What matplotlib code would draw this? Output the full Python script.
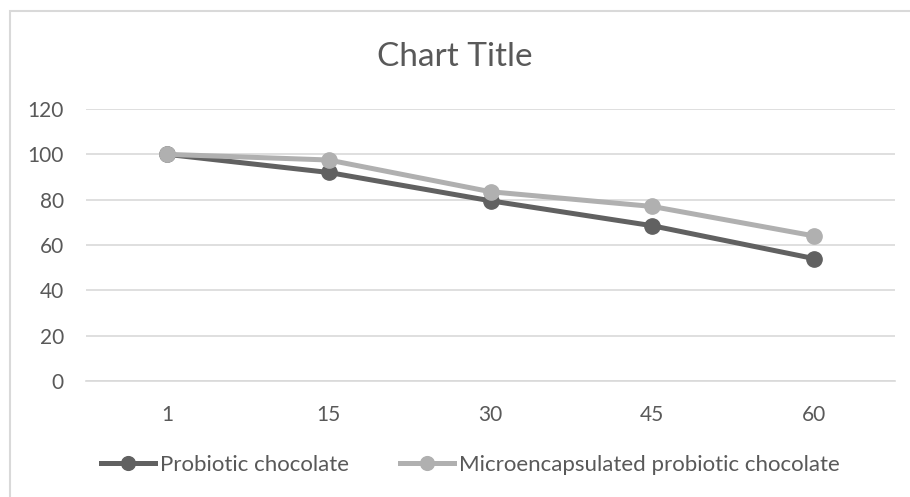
import matplotlib.pyplot as plt
from matplotlib.patches import Rectangle

days = ["1", "15", "30", "45", "60"]
probiotic = [100, 92, 79.5, 68.5, 54]
micro = [100, 97.5, 83.5, 77, 64]
yticks = [0, 20, 40, 60, 80, 100, 120]

plt.rcParams["font.family"] = ["Lato", "DejaVu Sans"]
txt = "#595959"

fig = plt.figure(figsize=(9.1, 4.97), dpi=100)
ax = fig.add_axes([86 / 910, 1 - 381 / 497, (895 - 86) / 910, (381 - 109) / 497])

x = range(len(days))
ax.plot(x, probiotic, color="#616161", lw=3.6, marker="o", ms=11, label="Probiotic chocolate", zorder=3)
ax.plot(x, micro, color="#b0b0b0", lw=3.6, marker="o", ms=11,
        label="Microencapsulated probiotic chocolate", zorder=3)

ax.set_ylim(0, 120)
ax.set_xlim(-0.5, len(days) - 0.5)
ax.set_yticks(yticks)
ax.set_xticks(list(x))
ax.set_xticklabels(days)
ax.grid(axis="y", color="#d9d9d9", lw=1.2)
ax.set_axisbelow(True)
for s in ["top", "right", "left"]:
    ax.spines[s].set_visible(False)
ax.spines["bottom"].set_color("#d9d9d9")
ax.spines["bottom"].set_linewidth(1.2)
ax.tick_params(length=0, labelsize=15, colors=txt, pad=17)
ax.tick_params(axis="y", pad=16)

fig.text(0.5, 1 - 57 / 497, "Chart Title", ha="center", va="center", fontsize=24, color=txt)

fig.legend(loc="center", bbox_to_anchor=(470.5 / 910, 1 - 465 / 497), ncol=2, frameon=False,
           fontsize=16, labelcolor=txt, handlelength=2.4, handletextpad=0.25, columnspacing=2.3,
           markerscale=0.9)

fig.patches.append(Rectangle((10 / 910, -0.1), 1.2, 1 - 11 / 497 + 0.1, transform=fig.transFigure,
                             fill=False, edgecolor="#d9d9d9", lw=1.5))

fig.savefig("out.png", dpi=100)
